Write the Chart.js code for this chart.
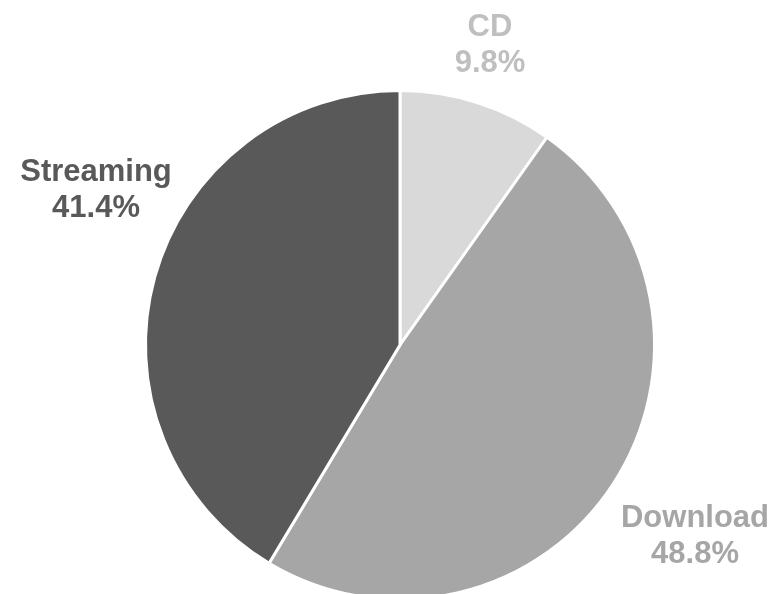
<!DOCTYPE html>
<html>
<head>
<meta charset="utf-8">
<script src="https://cdn.jsdelivr.net/npm/chart.js@4"></script>
<style>
    html, body { margin: 0; padding: 0; background: #fff; overflow: hidden; }
    #wrap { position: relative; width: 777px; height: 610px; }
</style>
</head>
<body>
<div id="wrap"><canvas id="pieChart"></canvas></div>
<script>
const categories = ["CD", "Download", "Streaming"];
const shares = [9.8, 48.8, 41.4];
const sliceColors = ["#d9d9d9", "#a6a6a6", "#595959"];
const labelColors = ["#bfbfbf", "#a6a6a6", "#595959"];

// label anchors, relative to pie centre (Excel-style placement)
const labelOffsets = [[90, -300], [295, 191], [-304, -155]];

const outsideLabels = {
    id: "outsideLabels",
    afterDatasetsDraw(chart) {
        const ctx = chart.ctx;
        const arcs = chart.getDatasetMeta(0).data;
        ctx.save();
        ctx.font = "bold 31px 'Liberation Sans', Arial, sans-serif";
        ctx.textAlign = "center";
        ctx.textBaseline = "middle";
        arcs.forEach((arc, i) => {
            const x = arc.x + labelOffsets[i][0];
            const y = arc.y + labelOffsets[i][1];
            ctx.fillStyle = labelColors[i];
            ctx.fillText(categories[i], x, y - 18);
            ctx.fillText(shares[i].toFixed(1) + "%", x, y + 18);
        });
        ctx.restore();
    }
};

new Chart(document.getElementById("pieChart"), {
    type: "pie",
    data: {
        labels: categories,
        datasets: [{
            data: shares,
            backgroundColor: sliceColors,
            borderColor: "#ffffff",
            borderWidth: 3
        }]
    },
    options: {
        responsive: true,
        maintainAspectRatio: false,
        animation: false,
        layout: {
            padding: { top: 89, bottom: 9, left: 144, right: 121 }
        },
        plugins: {
            legend: { display: false },
            tooltip: { enabled: false }
        }
    },
    plugins: [outsideLabels]
});
</script>
</body>
</html>
